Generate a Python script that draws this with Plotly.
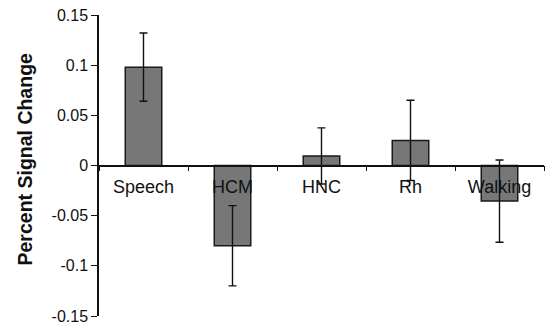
import plotly.graph_objects as go

categories = ["Speech", "HCM", "HNC", "Rh", "Walking"]
values = [0.098, -0.080, 0.0095, 0.025, -0.0355]
errors = [0.034, 0.040, 0.028, 0.040, 0.041]
y_tick_vals = [0.15, 0.1, 0.05, 0, -0.05, -0.1, -0.15]
y_tick_text = ["0.15", "0.1", "0.05", "0", "-0.05", "-0.1", "-0.15"]
y_title = "Percent Signal Change"

FONT = "Liberation Sans, Arial, Helvetica, sans-serif"

fig = go.Figure(
    go.Bar(
        x=categories,
        y=values,
        width=0.41,
        marker=dict(color="#777777", line=dict(color="#1a1a1a", width=1.5)),
        error_y=dict(type="data", array=errors, visible=True,
                     color="#111111", thickness=1.4, width=4),
    )
)

fig.update_layout(
    width=548, height=331,
    margin=dict(l=99, r=4, t=15, b=15),
    paper_bgcolor="white", plot_bgcolor="white",
    showlegend=False,
    font=dict(family=FONT, color="#111111"),
    annotations=[dict(
        text="<b>" + y_title + "</b>", textangle=-90,
        xref="paper", yref="paper", x=0, y=0.5,
        xanchor="center", yanchor="middle", xshift=-75, yshift=6,
        showarrow=False, font=dict(size=19.5, family=FONT, color="#111111"),
    )],
)

fig.update_xaxes(
    anchor="free", position=0.5, automargin=False,
    showline=True, linecolor="#111111", linewidth=1.5,
    ticks="outside", ticklen=5, tickwidth=1.2, tickcolor="#111111",
    tickson="boundaries", ticklabelstandoff=5,
    tickfont=dict(size=18, family=FONT),
    showgrid=False, zeroline=False,
)

fig.update_yaxes(
    range=[-0.15, 0.15], automargin=False,
    tickvals=y_tick_vals, ticktext=y_tick_text,
    showline=True, linecolor="#111111", linewidth=1.5,
    ticks="outside", ticklen=6, tickwidth=1.2, tickcolor="#111111",
    tickfont=dict(size=16, family=FONT),
    showgrid=False, zeroline=False,
)

fig.write_html(
    "out.html",
    config={"displayModeBar": False},
    post_script="document.body.style.margin='0';document.body.style.overflow='hidden';",
)
